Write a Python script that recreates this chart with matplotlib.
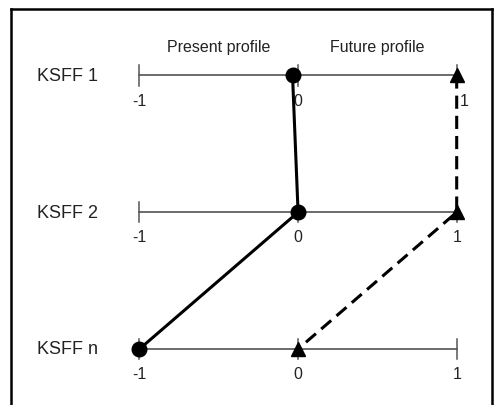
import matplotlib.pyplot as plt

plt.rcParams["font.family"] = ["Liberation Sans", "DejaVu Sans"]

# rows (top to bottom) and their profile values
row_labels = ["KSFF 1", "KSFF 2", "KSFF n"]
present_values = [-0.035, 0.0, -1.0]
future_values = [1.0, 1.0, 0.0]
tick_values = [-1, 0, 1]
tick_labels = ["-1", "0", "1"]
header_labels = ["Present profile", "Future profile"]
header_positions = [-0.5, 0.5]

W, H = 494, 406
fig = plt.figure(figsize=(W / 100, H / 100), dpi=100)
ax = fig.add_axes([11 / W, 0, (492 - 11) / W, (406 - 10) / H])

ax.set_xlim(-1.810, 1.2226)
ax.set_ylim(2.4095, -0.486)

rows = list(range(len(row_labels)))

# horizontal scales with ticks
for r, label in zip(rows, row_labels):
    ax.plot([-1, 1], [r, r], color="#444444", linewidth=1.1, zorder=1)
    for tv, tl in zip(tick_values, tick_labels):
        ax.plot([tv, tv], [r - 0.075, r + 0.075], color="#555555",
                linewidth=1.1, zorder=1)
        # the top row's "1" sits just right of the dashed line
        nudge = 0.045 if (r == 0 and tv == 1) else 0.0
        ax.text(tv + nudge, r + 0.18, tl, ha="center", va="center",
                fontsize=11.5, color="#222222")
    ax.text(-1.643, r, label, ha="left", va="center",
            fontsize=13, color="#222222")

for hx, hl in zip(header_positions, header_labels):
    ax.text(hx, -0.21, hl, ha="center", va="center",
            fontsize=11.5, color="#222222")

# present profile (solid, circles)
ax.plot(present_values, rows, color="black", linewidth=2.2, zorder=2,
        clip_on=False)
ax.plot(present_values, rows, linestyle="none", marker="o",
        markersize=10.5, color="black", zorder=3, clip_on=False)

# future profile (dashed, triangles)
ax.plot(future_values, rows, color="black", linewidth=2.2,
        dashes=(4.3, 2.3), zorder=2, clip_on=False)
ax.plot(future_values, rows, linestyle="none", marker="^",
        markersize=10, color="black", zorder=3, clip_on=False)

ax.set_xticks([])
ax.set_yticks([])
ax.spines["bottom"].set_visible(False)
for side in ["top", "left", "right"]:
    ax.spines[side].set_linewidth(1.8)
    ax.spines[side].set_color("black")

fig.savefig("out.png", dpi=100)
